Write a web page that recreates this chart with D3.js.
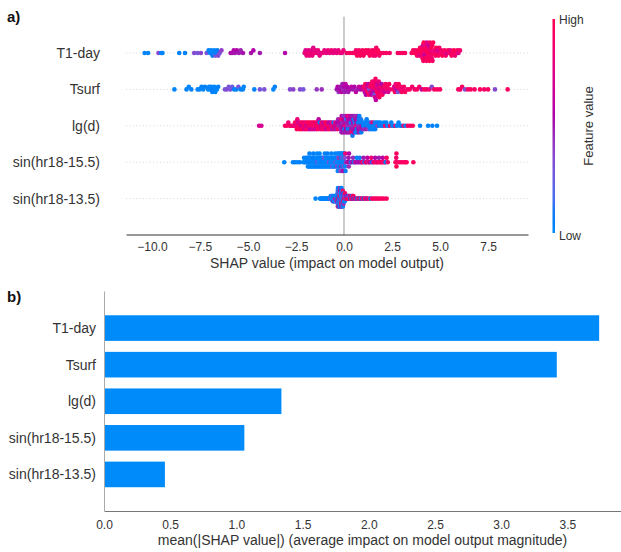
<!DOCTYPE html>
<html>
<head>
<meta charset="utf-8">
<script src="https://cdn.jsdelivr.net/npm/d3@7"></script>
<style>
  body { margin: 0; background: #fff; }
  text { font-family: "Liberation Sans", Arial, Helvetica, sans-serif; }
</style>
</head>
<body>
<svg id="chart" width="621" height="552"></svg>
<script>
// ---- data -------------------------------------------------------------
const features = ["T1-day", "Tsurf", "lg(d)", "sin(hr18-15.5)", "sin(hr18-13.5)"];
const meanAbsShap = [3.74, 3.42, 1.34, 1.06, 0.46];
const shapTicks = [-10, -7.5, -5, -2.5, 0, 2.5, 5, 7.5];
const barTicks = [0, 0.5, 1, 1.5, 2, 2.5, 3, 3.5];

// each point: [SHAP value, feature value scaled 0 (low) .. 1 (high)]
const t1Day = [
[-10.38,.02],[-10.2,.02],[-9.66,.35],[-9.52,.05],[-9.45,.03],[-8.58,.03],[-8.28,.05],
[-7.8,.35],[-7.62,.3],[-7.45,.38],[-7.15,.3],[-7.05,.03],[-6.97,.05],[-6.92,.02],[-6.85,.08],[-6.8,.03],[-6.76,.02],[-6.7,.3],[-6.66,.05],[-6.6,.08],[-6.55,.35],[-6.47,.3],[-6.38,.4],
[-5.9,.55],[-5.82,.52],[-5.74,.55],[-5.68,.5],[-5.58,.55],[-5.47,.5],[-5.38,.48],[-5.26,.52],
[-4.84,.52],[-4.72,.55],[-4.38,.5],[-3.07,.55],
[-2.05,.8],[-2.0,.75],[-1.95,.82],[-1.9,.85],[-1.85,.78],[-1.8,.8],[-1.75,.85],[-1.7,.78],[-1.65,.82],[-1.6,.75],[-1.55,.85],[-1.49,.8],[-1.42,.78],[-1.35,.82],[-1.27,.8],[-1.19,.75],[-1.1,.85],[-1.02,.8],[-0.92,.78],[-0.83,.82],[-0.74,.8],[-0.65,.85],[-0.56,.8],[-0.47,.78],[-0.38,.82],[-0.29,.8],[-0.2,.85],[-0.11,.8],[-0.03,.82],
[0.14,.9],[0.3,.95],[0.45,.9],[0.56,.95],[0.62,.9],[0.68,1],[0.72,.85],[0.78,.92],[0.84,.95],[0.9,.98],[0.96,.92],[1.02,.95],[1.08,.9],[1.14,1],[1.2,.92],[1.27,.95],[1.34,.97],[1.4,.92],[1.46,.95],[1.52,.9],[1.56,.93],[1.6,.95],[1.64,.88],[1.68,.92],[1.72,.95],[1.77,.97],[1.84,.9],[1.92,.95],[2.05,.92],[2.2,.95],[2.38,.9],
[2.8,.95],[2.92,.9],[3.05,.95],[3.18,.92],
[3.52,.9],[3.6,.95],[3.68,1],[3.74,.9],[3.8,.95],[3.85,.9],[3.89,1],[3.93,.8],[3.96,.95],[3.99,.9],[4.02,1],[4.05,.85],[4.07,.95],[4.09,.9],
[4.11,.7],[4.13,.95],[4.15,1],[4.17,.8],[4.19,.9],[4.21,.6],[4.23,.95],[4.25,1],[4.27,.85],[4.29,.9],[4.31,.75],[4.33,.95],[4.35,1],[4.37,.9],[4.39,.85],[4.41,.95],[4.43,.6],[4.45,1],[4.47,.9],[4.49,.95],[4.51,.8],[4.53,.9],[4.55,1],[4.57,.85],[4.59,.95],[4.61,.9],
[4.64,1],[4.68,.9],[4.72,.8],[4.76,.95],[4.8,1],[4.84,.9],[4.88,.7],[4.92,.95],[4.96,.9],[5.0,.85],
[5.06,.9],[5.12,1],[5.18,.85],[5.24,.95],[5.3,.9],[5.36,.7],[5.42,.95],[5.48,.9],[5.54,.8],[5.6,.95],[5.66,.9],[5.72,1],[5.78,.85],[5.84,.9],[5.9,.95],[5.96,.75],[6.04,.9]
];

const tSurf = [
[-8.83,.02],[-8.2,.05],[-8.08,.02],[-7.95,.05],[-7.62,.03],[-7.52,.02],[-7.42,.05],[-7.33,.02],[-7.24,.05],[-7.08,.02],[-7.02,.05],[-6.97,.02],[-6.92,.03],[-6.86,.02],[-6.82,.05],[-6.76,.02],[-6.7,.03],[-6.62,.02],[-6.55,.05],
[-6.2,.3],[-6.1,.35],[-6.0,.3],[-5.92,.32],[-5.82,.28],[-5.72,.05],[-5.6,.03],[-5.5,.3],[-5.38,.05],[-5.27,.03],[-5.22,.02],
[-4.67,.05],[-4.38,.3],[-4.15,.32],[-3.68,.03],[-3.6,.05],
[-2.81,.35],[-2.64,.38],[-2.29,.35],[-2.12,.3],[-1.42,.42],[-1.16,.45],
[-0.38,.5],[-0.33,.55],[-0.28,.45],[-0.23,.55],[-0.18,.5],[-0.13,.6],[-0.08,.5],[-0.04,.45],[0.0,.55],[0.04,.5],[0.08,.6],[0.12,.5],[0.16,.55],
[0.22,.5],[0.3,.55],[0.38,.6],[0.46,.5],[0.54,.55],[0.62,.6],[0.7,.5],[0.78,.65],[0.86,.55],[0.94,.6],
[1.0,.7],[1.04,.9],[1.08,.6],[1.11,.95],[1.14,.55],[1.17,.85],[1.2,.7],[1.23,.95],[1.26,.6],[1.29,.9],[1.32,.3],[1.35,.85],[1.38,.7],[1.41,.95],[1.44,.6],[1.47,.9],[1.5,.75],[1.52,.95],[1.54,.55],[1.56,.9],[1.58,.35],[1.6,.85],[1.62,.7],[1.64,.95],[1.66,.6],[1.68,.9],[1.7,.75],[1.72,.95],[1.75,.65],[1.78,.9],[1.81,.8],[1.84,.95],[1.87,.7],[1.9,.9],[1.93,.85],[1.96,.55],[2.0,.95],[2.04,.8],[2.08,.9],[2.12,.65],[2.16,.95],[2.2,.85],[2.25,.9],[2.3,.7],[2.35,.95],[2.4,.85],
[2.57,.9],[2.61,.7],[2.65,.95],[2.69,.85],[2.73,.6],[2.77,.9],[2.81,.3],[2.85,.95],[2.9,.8],[2.95,.9],[3.0,.95],[3.06,.85],[3.12,.9],[3.18,.95],
[3.3,.9],[3.42,.95],[3.55,.9],[3.68,.85],[3.8,.95],[3.92,.9],[4.05,.6],[4.18,.95],[4.3,.9],[4.45,.85],[4.57,.35],[4.7,.9],[4.85,.95],[5.0,.9],
[5.95,.95],[6.05,.9],[6.15,.95],[6.3,.35],[6.45,.9],[6.6,.95],[6.8,.9],
[7.08,.95],[7.3,.9],[7.5,.95],[7.86,.35],[8.52,.95]
];

const lgD = [
[-4.42,.7],[-4.3,.72],
[-3.07,.9],[-2.98,.95],[-2.9,.85],[-2.82,.9],[-2.74,.95],[-2.66,.8],[-2.6,.9],
[-2.55,.95],[-2.52,.75],[-2.49,.9],[-2.46,1],[-2.43,.85],[-2.4,.9],[-2.37,.7],[-2.34,.95],[-2.31,.9],[-2.28,.8],[-2.25,.95],[-2.22,.6],[-2.19,.9],[-2.16,1],[-2.13,.85],[-2.1,.9],[-2.07,.7],[-2.04,.95],[-2.01,.8],[-1.98,.9],[-1.95,.65],[-1.92,.95],[-1.89,.9],[-1.86,.8],[-1.83,1],[-1.8,.7],[-1.77,.9],[-1.74,.95],[-1.71,.6],[-1.68,.85],[-1.65,.9],[-1.62,.75],[-1.59,.95],[-1.56,.9],[-1.53,.65],[-1.5,.85],[-1.47,1],[-1.44,.7],[-1.41,.9],[-1.38,.8],[-1.35,.95],[-1.32,.6],[-1.29,.9],[-1.26,.05],[-1.23,.85],[-1.2,.7],[-1.17,.95],[-1.14,.8],[-1.11,.9],[-1.08,.55],[-1.05,.95],[-1.02,.75],[-0.99,.9],[-0.96,.65],[-0.93,.85],[-0.9,1],[-0.87,.7],[-0.84,.9],[-0.81,.6],[-0.78,.95],[-0.75,.8],[-0.72,.55],[-0.69,.9],[-0.66,.7],[-0.63,.85],[-0.6,.5],[-0.57,.9],[-0.54,.1],[-0.51,.75],
[-0.48,.6],[-0.45,.85],[-0.42,.5],[-0.39,.7],[-0.36,.55],[-0.33,.9],[-0.3,.5],[-0.27,.45],[-0.24,.6],[-0.21,.8],
[-0.19,.5],[-0.18,.55],[-0.16,.45],[-0.15,.8],[-0.13,.5],[-0.12,.6],[-0.1,.5],[-0.09,.45],[-0.07,.55],[-0.06,.9],[-0.04,.5],[-0.03,.45],[-0.01,.6],[0,.5],[0.02,.1],[0.03,.55],[0.05,.5],[0.06,.45],[0.08,.85],[0.09,.5],[0.11,.55],[0.12,.15],[0.14,.5],[0.15,.6],[0.17,.45],[0.18,.5],[0.2,.05],[0.21,.55],[0.23,.5],[0.24,.8],[0.26,.45],[0.27,.5],[0.29,.1],[0.3,.55],[0.32,.5],[0.33,.6],[0.35,.45],[0.36,.05],[0.38,.5],[0.39,.55],[0.41,.9],[0.42,.5],[0.44,.1],[0.45,.45],[0.47,.55],[0.48,.5],[0.5,.05],[0.51,.6],[0.53,.5],[0.54,.45],[0.56,.1],[0.57,.55],[0.59,.5],[0.6,.05],[0.62,.45],[0.63,.85],[0.65,.5],[0.66,.1],[0.68,.55],[0.69,.05],[0.71,.5],[0.72,.45],[0.74,.05],[0.75,.55],[0.77,.1],[0.78,.5],[0.8,.05],[0.82,.45],[0.84,.05],[0.86,.5],[0.88,.1],[0.9,.05],[0.92,.55],[0.94,.05],
[0.97,.5],[1.0,.05],[1.03,.1],[1.06,.45],[1.09,.05],[1.12,.02],[1.15,.5],[1.18,.05],[1.21,.1],[1.24,.05],[1.27,.4],[1.3,.02],[1.33,.05],[1.36,.1],[1.39,.05],[1.42,.45],[1.45,.02],[1.48,.05],[1.51,.9],[1.54,.05],[1.57,.02],[1.6,.1],[1.63,.05],[1.67,.02],[1.71,.05],[1.75,.4],[1.79,.05],
[1.84,.05],[1.9,.02],[1.96,.05],[2.02,.1],[2.08,.02],[2.14,.9],[2.2,.05],[2.26,.02],[2.32,.05],[2.4,.95],[2.46,.05],[2.52,.02],[2.6,.05],[2.68,.9],[2.76,.02],[2.84,.05],[2.92,.02],[3.0,.05],[3.1,.9],[3.2,.02],[3.32,.95],[3.45,.9],[3.58,.95],
[3.96,.02],[4.38,.02],[4.6,.05],[4.84,.02]
];

const sinHr155 = [
[-3.11,.02],[-2.66,.02],[-2.55,.05],[-2.42,.02],[-2.3,.05],
[-2.12,.02],[-2.08,.05],[-2.04,.02],[-2.0,.0],[-1.96,.05],[-1.92,.08],
[-1.9,.02],[-1.88,.05],[-1.86,.0],[-1.84,.05],[-1.83,.02],[-1.8,.05],[-1.78,.08],[-1.76,.02],[-1.74,.05],[-1.72,.02],[-1.71,.0],[-1.68,.05],[-1.66,.02],[-1.64,.05],[-1.62,.02],[-1.6,.05],[-1.58,.02],[-1.57,.08],[-1.54,.02],[-1.52,.05],[-1.5,.02],[-1.48,.03],[-1.46,.05],[-1.44,.02],[-1.43,.05],[-1.4,.02],[-1.38,.3],[-1.36,.02],[-1.34,.05],[-1.32,.02],[-1.3,.03],[-1.28,.05],[-1.27,.02],[-1.24,.05],[-1.22,.02],[-1.2,.08],[-1.18,.02],[-1.16,.05],[-1.15,.02],[-1.12,.03],[-1.1,.05],[-1.08,.02],[-1.06,.05],[-1.04,.3],[-1.02,.02],[-1,.05],[-0.99,.02],[-0.96,.03],[-0.94,.05],[-0.92,.02],[-0.9,.05],[-0.88,.02],[-0.86,.08],[-0.84,.02],[-0.83,.05],[-0.8,.02],[-0.78,.35],[-0.76,.05],[-0.74,.02],[-0.72,.05],[-0.7,.02],[-0.68,.03],[-0.66,.05],[-0.64,.02],[-0.62,.05],[-0.6,.3],[-0.58,.02],[-0.56,.05],[-0.54,.02],[-0.52,.03],[-0.5,.05],[-0.48,.02],[-0.46,.05],[-0.44,.35],[-0.42,.02],
[-0.4,.05],[-0.385,.02],[-0.37,.05],[-0.355,.4],[-0.34,.02],[-0.325,.05],[-0.31,.02],[-0.295,.3],[-0.28,.05],[-0.265,.02],[-0.25,.05],[-0.235,.45],[-0.22,.02],[-0.205,.05],[-0.19,.35],[-0.175,.02],[-0.16,.05],[-0.145,.5],[-0.13,.02],[-0.115,.05],[-0.1,.3],[-0.085,.02],[-0.07,.05],[-0.055,.55],[-0.04,.02],[-0.025,.05],[-0.01,.4],[0.005,.02],[0.02,.05],[0.035,.35],[0.05,.02],[0.065,.85],[0.08,.05],[0.1,.45],
[0.2,.5],[0.22,.55],[0.24,.5],[0.25,.45],[0.26,.55],
[0.32,.5],[0.37,.05],[0.42,.55],[0.47,.45],[0.52,.05],[0.57,.5],[0.62,.6],[0.67,.05],[0.72,.5],[0.77,.55],[0.82,.1],[0.87,.5],[0.92,.6],[0.97,.9],[1.02,.5],[1.07,.05],[1.12,.55],[1.17,.9],[1.22,.6],[1.27,.5],[1.32,.95],[1.37,.55],[1.42,.85],[1.47,.05],[1.52,.6],[1.57,.9],[1.62,.55],[1.67,.95],[1.72,.7],[1.77,.9],[1.82,.5],[1.87,.95],[1.92,.85],[1.97,.9],[2.02,.6],[2.07,.95],[2.12,.9],[2.17,.05],[2.22,.95],[2.28,.9],
[2.68,.9],[2.72,.95],[2.72,.9],[2.73,1],[2.73,.95],[2.8,.9],[2.9,.95],[3.0,.9],[3.1,.95],[3.2,.9],[3.26,.95],
[3.61,.95]
];

const sinHr135 = [
[-1.48,.02],[-1.25,.02],[-1.2,.05],[-1.15,.02],[-1.1,.05],[-1.05,.02],[-1.0,.03],[-0.95,.02],[-0.9,.05],[-0.86,.02],[-0.82,.05],[-0.78,.02],[-0.75,.05],[-0.72,.3],[-0.69,.02],[-0.66,.05],
[-0.64,.02],[-0.63,.05],[-0.61,.02],[-0.6,.3],[-0.59,.05],[-0.57,.02],[-0.56,.05],[-0.55,.5],[-0.53,.02],[-0.52,.05],[-0.51,.02],[-0.49,.3],[-0.48,.05],[-0.47,.02],[-0.45,.5],[-0.44,.05],[-0.43,.02],[-0.42,.9],[-0.4,.05],[-0.39,.35],[-0.38,.02],[-0.37,.05],[-0.36,.5],
[-0.35,.02],[-0.345,.05],[-0.34,.5],[-0.335,.02],[-0.33,.3],[-0.325,.05],[-0.32,.9],[-0.315,.02],[-0.31,.55],[-0.305,.05],[-0.3,.02],[-0.295,.45],[-0.29,.05],[-0.285,.3],[-0.28,.02],[-0.275,.9],[-0.27,.05],[-0.265,.5],[-0.26,.02],[-0.255,.35],[-0.25,.05],[-0.245,.55],[-0.24,.02],[-0.235,.85],[-0.23,.05],[-0.225,.3],[-0.22,.02],[-0.215,.5],[-0.21,.05],[-0.205,.45],[-0.2,.02],[-0.195,.9],[-0.19,.05],[-0.185,.3],[-0.18,.02],[-0.175,.55],[-0.17,.05],[-0.165,.5],[-0.16,.02],[-0.155,.35],[-0.15,.05],[-0.145,.9],[-0.14,.02],[-0.135,.45],[-0.13,.05],[-0.125,.3],[-0.12,.02],[-0.115,.55],[-0.11,.05],[-0.105,.85],[-0.1,.02],[-0.095,.5],[-0.09,.05],[-0.085,.3],[-0.08,.02],[-0.075,.55],[-0.07,.05],[-0.065,.9],[-0.06,.02],[-0.055,.45],[-0.05,.05],
[-0.04,.9],[-0.03,.05],[-0.02,.45],[-0.01,.02],[0,.5],[0.01,.05],[0.02,.9],[0.03,.3],[0.04,.02],[0.05,.95],
[0.07,.9],[0.09,.5],[0.11,.05],[0.13,.95],[0.15,.55],[0.17,.9],[0.19,.05],[0.21,.85],[0.23,.5],[0.25,.95],[0.27,.3],[0.29,.9],[0.31,.55],[0.33,.05],[0.35,.95],[0.37,.5],[0.39,.9],[0.41,.05],[0.43,.85],[0.45,.95],[0.47,.5],[0.49,.9],[0.52,.05],[0.55,.95],[0.58,.6],
[0.63,.9],[0.68,.05],[0.73,.95],[0.78,.5],[0.83,.9],[0.88,.05],[0.93,.95],[0.98,.85],[1.03,.05],[1.08,.9],[1.14,.95],[1.2,.5],
[1.28,.95],[1.38,.05],[1.45,.9],[1.55,.95],[1.65,.9],[1.75,.95],[1.85,.9],[1.97,.95],[2.08,.9],[2.22,.95]
];

const rows = [t1Day, tSurf, lgD, sinHr155, sinHr135];

// ---- styling ------------------------------------------------------------
const axisColor = "#333333";
const blue = "#008bfb";
// blue -> purple -> red ramp in LCh space, slightly darker through the middle
const lchLow = [54, 70, 266.93], lchHigh = [54, 90, 380.32], lMid = 40;
function featureRamp(t) {
  const L = t < 0.5 ? lchLow[0] + (lMid - lchLow[0]) * (t / 0.5)
                    : lMid + (lchHigh[0] - lMid) * ((t - 0.5) / 0.5);
  const C = lchLow[1] + (lchHigh[1] - lchLow[1]) * t;
  const H = (lchLow[2] + (lchHigh[2] - lchLow[2]) * t) % 360;
  return d3.hcl(H, C, L).formatHex();
}
const colorOf = d3.scaleSequential(featureRamp).domain([0, 1]);

const svg = d3.select("#chart");

// ---- panel a: SHAP beeswarm -------------------------------------------
const xA = d3.scaleLinear().domain([-11.35, 9.58]).range([126, 528]);
const yA = d3.scaleLinear().domain([-1, features.length]).range([16.6, 235]);

// horizontal dotted guides for each feature row
svg.append("g").selectAll("line").data(features).join("line")
  .attr("x1", xA.range()[0]).attr("x2", xA.range()[1])
  .attr("y1", (d, i) => yA(i)).attr("y2", (d, i) => yA(i))
  .attr("stroke", "#cccccc").attr("stroke-width", 0.8)
  .attr("stroke-dasharray", "1,2.4");

// zero line
svg.append("line")
  .attr("x1", xA(0)).attr("x2", xA(0))
  .attr("y1", yA(-1)).attr("y2", yA(features.length))
  .attr("stroke", "#999999").attr("stroke-width", 1);

// vertical jitter: bin the SHAP values and stack points in each bin
function swarmOffsets(points) {
  const xs = points.map(p => p[0]);
  const lo = d3.min(xs), hi = d3.max(xs);
  const nbins = 100;
  const quant = xs.map(v => Math.round(nbins * (v - lo) / (hi - lo + 1e-8)));
  const order = d3.range(xs.length).sort((a, b) => quant[a] - quant[b] || a - b);
  const ys = new Array(xs.length).fill(0);
  let layer = 0, last = -1;
  for (const i of order) {
    if (quant[i] !== last) layer = 0;
    ys[i] = Math.ceil(layer / 2) * ((layer % 2) * 2 - 1);
    layer++;
    last = quant[i];
  }
  const top = d3.max(ys) + 1;
  return ys.map(y => y * 0.9 * (0.4 / top));
}

const dots = svg.append("g");
rows.forEach((pts, i) => {
  const off = swarmOffsets(pts);
  dots.append("g").selectAll("circle").data(pts).join("circle")
    .attr("cx", d => xA(d[0]))
    .attr("cy", (d, j) => yA(i - off[j]))
    .attr("r", 2.3)
    .attr("fill", d => colorOf(d[1]));
});

// feature labels
svg.append("g").selectAll("text").data(features).join("text")
  .attr("x", 100).attr("y", (d, i) => yA(i) + 5)
  .attr("text-anchor", "end").attr("font-size", 14).attr("fill", axisColor)
  .text(d => d);

// x axis
const axA = svg.append("g").attr("transform", `translate(0,${yA(features.length) - 0.5})`)
  .call(d3.axisBottom(xA).tickValues(shapTicks).tickFormat(d3.format(".1f"))
    .tickSize(0).tickSizeOuter(0).tickPadding(8));
axA.select(".domain").attr("stroke", axisColor);
axA.selectAll("text").attr("font-size", 12).attr("fill", axisColor)
  .attr("font-family", "Liberation Sans, Arial, sans-serif");
svg.append("text").attr("x", (xA.range()[0] + xA.range()[1]) / 2).attr("y", 268)
  .attr("text-anchor", "middle").attr("font-size", 14).attr("fill", axisColor)
  .text("SHAP value (impact on model output)");

// colour bar
const grad = svg.append("defs").append("linearGradient").attr("id", "fvGrad")
  .attr("x1", 0).attr("y1", 1).attr("x2", 0).attr("y2", 0);
d3.range(0, 1.0001, 0.05).forEach(t => {
  grad.append("stop").attr("offset", t).attr("stop-color", colorOf(t));
});
svg.append("rect").attr("x", 552.5).attr("y", 19).attr("width", 2.5).attr("height", 214)
  .attr("fill", "url(#fvGrad)");
svg.append("text").attr("x", 559).attr("y", 23.5).attr("font-size", 12)
  .attr("fill", axisColor).text("High");
svg.append("text").attr("x", 559).attr("y", 239.5).attr("font-size", 12)
  .attr("fill", axisColor).text("Low");
svg.append("text").attr("transform", "translate(593,126) rotate(-90)")
  .attr("text-anchor", "middle").attr("font-size", 13).attr("fill", axisColor)
  .text("Feature value");

svg.append("text").attr("x", 7).attr("y", 21.5).attr("font-size", 15)
  .attr("font-weight", "bold").attr("fill", "#111").text("a)");

// ---- panel b: mean |SHAP| bars -----------------------------------------
const xB = d3.scaleLinear().domain([0, 3.905]).range([104, 621]);
const yB = d3.scaleLinear().domain([-1, features.length]).range([291.5, 511]);
const barH = 0.7 * (yB(1) - yB(0));

svg.append("g").selectAll("rect").data(meanAbsShap).join("rect")
  .attr("x", xB(0))
  .attr("y", (d, i) => yB(i) - barH / 2)
  .attr("width", d => xB(d) - xB(0))
  .attr("height", barH)
  .attr("fill", blue);

svg.append("line")
  .attr("x1", xB(0) + 0.5).attr("x2", xB(0) + 0.5)
  .attr("y1", yB(-1)).attr("y2", yB(features.length))
  .attr("stroke", "#aaaaaa").attr("stroke-width", 1);

svg.append("g").selectAll("text").data(features).join("text")
  .attr("x", 96).attr("y", (d, i) => yB(i) + 5)
  .attr("text-anchor", "end").attr("font-size", 14).attr("fill", axisColor)
  .text(d => d);

const axB = svg.append("g").attr("transform", `translate(0,${yB(features.length)})`)
  .call(d3.axisBottom(xB).tickValues(barTicks).tickFormat(d3.format(".1f"))
    .tickSize(0).tickSizeOuter(0).tickPadding(9));
axB.select(".domain").attr("stroke", "#777777");
axB.selectAll("text").attr("font-size", 12).attr("fill", axisColor)
  .attr("font-family", "Liberation Sans, Arial, sans-serif");
svg.append("text").attr("x", (xB.range()[0] + xB.range()[1]) / 2).attr("y", 545)
  .attr("text-anchor", "middle").attr("font-size", 14).attr("fill", axisColor)
  .text("mean(|SHAP value|) (average impact on model output magnitude)");

svg.append("text").attr("x", 7).attr("y", 302).attr("font-size", 15)
  .attr("font-weight", "bold").attr("fill", "#111").text("b)");
</script>
</body>
</html>
